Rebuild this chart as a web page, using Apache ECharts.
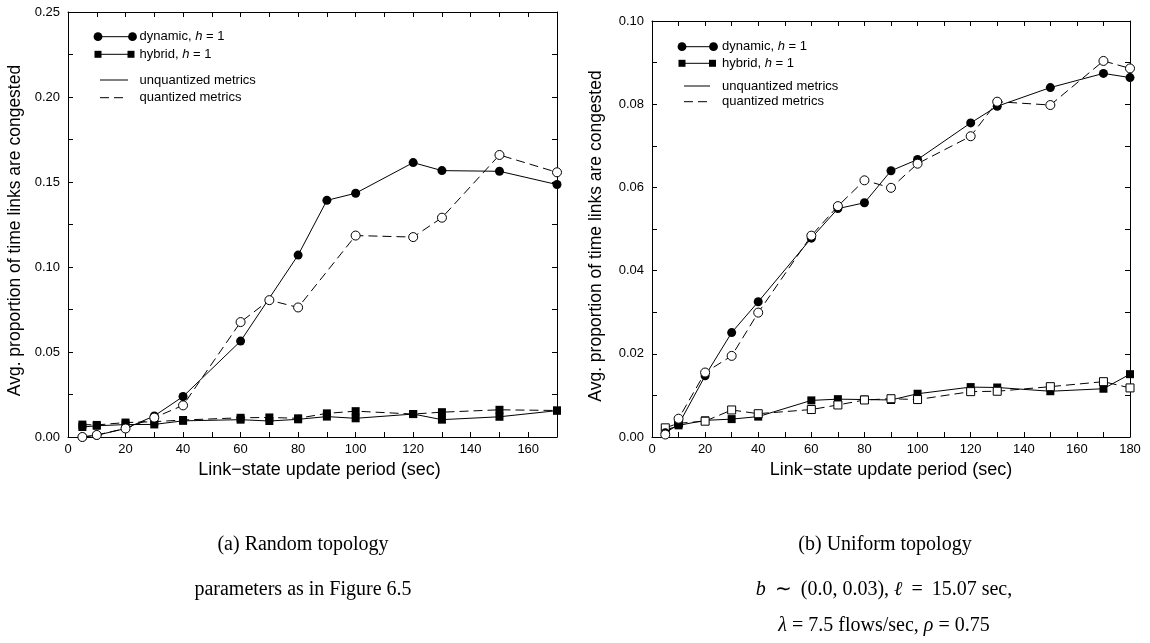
<!DOCTYPE html>
<html>
<head>
<meta charset="utf-8">
<script src="https://cdn.jsdelivr.net/npm/echarts@6/dist/echarts.min.js"></script>
<style>
  html, body { margin: 0; padding: 0; background: #fff; }
  #chart { width: 1150px; height: 643px; }
</style>
</head>
<body>
<div id="chart"></div>
<script>
// (a) Random topology: link-state update period (sec) vs. proportion of time links are congested
const periodsA_dyn      = [5, 10, 20, 30, 40, 60, 80, 90, 100, 120, 130, 150, 170];
const dynUnquantA       = [0.000, 0.001, 0.005, 0.0124, 0.0238, 0.0564, 0.107, 0.1392, 0.1434, 0.1614, 0.1567, 0.1563, 0.1485];
const periodsA_dynQ     = [5, 10, 20, 30, 40, 60, 70, 80, 100, 120, 130, 150, 170];
const dynQuantA         = [0.000, 0.0012, 0.005, 0.0114, 0.0186, 0.0676, 0.0805, 0.0762, 0.1185, 0.1176, 0.129, 0.1659, 0.1557];
const periodsA_hyb      = [5, 10, 20, 30, 40, 60, 70, 80, 90, 100, 120, 130, 150, 170];
const hybUnquantA       = [0.0059, 0.0066, 0.0073, 0.0074, 0.0095, 0.0102, 0.0094, 0.0104, 0.0120, 0.0110, 0.0135, 0.0102, 0.0119, 0.0155];
const hybQuantA         = [0.0073, 0.0071, 0.0085, 0.0090, 0.0100, 0.0113, 0.0115, 0.0110, 0.0139, 0.0152, 0.0135, 0.0146, 0.0160, 0.0156];

// (b) Uniform topology
const periodsB          = [5, 10, 20, 30, 40, 60, 70, 80, 90, 100, 120, 130, 150, 170, 180];
const dynUnquantB       = [0.001, 0.003, 0.0147, 0.0251, 0.0325, 0.0478, 0.0549, 0.0563, 0.0640, 0.0667, 0.0755, 0.0795, 0.0840, 0.0874, 0.0864];
const dynQuantB         = [0.0006, 0.0044, 0.0155, 0.0195, 0.0299, 0.0484, 0.0555, 0.0617, 0.0599, 0.0657, 0.0723, 0.0806, 0.0798, 0.0904, 0.0886];
const hybUnquantB       = [0.0015, 0.0028, 0.0040, 0.0043, 0.0049, 0.0088, 0.0091, 0.0090, 0.0089, 0.0104, 0.0120, 0.0119, 0.0110, 0.0116, 0.0151];
const hybQuantB         = [0.0022, 0.0033, 0.0038, 0.0065, 0.0056, 0.0066, 0.0077, 0.0089, 0.0092, 0.0090, 0.0109, 0.0110, 0.0121, 0.0133, 0.0118];

// Axis ranges and tick spacing
const xMaxA = 170, xMaxB = 180, xStep = 10, xLabelStep = 20;
const yMaxA = 0.25, yStepA = 0.025, yLabelStepA = 0.05;
const yMaxB = 0.10, yStepB = 0.01, yLabelStepB = 0.02;

const xAxisTitle = 'Link\u2212state update period (sec)';
const yAxisTitle = 'Avg. proportion of time links are congested';

const SANS = '"Liberation Sans", Arial, Helvetica, sans-serif';
const SERIF = '"Liberation Serif", "Times New Roman", serif';

function pairs(xs, ys) { return xs.map((x, i) => [x, ys[i]]); }

function isMultiple(v, step) {
  const r = v / step;
  return Math.abs(r - Math.round(r)) < 1e-6;
}

function frameAxis(kind, pos, gridIndex, max, step, labelStep, digits, title) {
  const ax = {
    type: 'value',
    gridIndex: gridIndex,
    position: pos,
    min: 0,
    max: max,
    interval: step,
    splitLine: { show: false },
    axisLine: { show: true, onZero: false, lineStyle: { color: '#000', width: 1 } },
    axisTick: { show: true, inside: true, length: 5, lineStyle: { color: '#000', width: 1 } },
    axisLabel: { show: false }
  };
  if (title) {
    ax.axisLabel = {
      show: true,
      color: '#000',
      fontFamily: SANS,
      fontSize: 13,
      margin: kind === 'x' ? 6 : 8,
      showMaxLabel: true,
      showMinLabel: true,
      formatter: v => isMultiple(v, labelStep) ? Number(v).toFixed(digits) : ''
    };
    ax.name = kind === 'x' ? xAxisTitle : yAxisTitle;
    ax.nameLocation = 'middle';
    ax.nameGap = title.gap;
    ax.nameTextStyle = { color: '#000', fontFamily: SANS, fontSize: title.size, padding: title.pad };
  }
  return ax;
}

const grids = [
  { left: 68, top: 12, width: 489, height: 425 },
  { left: 652, top: 21, width: 478, height: 416 }
];

const xAxes = [
  frameAxis('x', 'bottom', 0, xMaxA, xStep, xLabelStep, 0, { gap: 18, size: 18, pad: [0, 0, 0, 14] }),
  frameAxis('x', 'top', 0, xMaxA, xStep, xLabelStep, 0, null),
  frameAxis('x', 'bottom', 1, xMaxB, xStep, xLabelStep, 0, { gap: 18, size: 18, pad: 0 }),
  frameAxis('x', 'top', 1, xMaxB, xStep, xLabelStep, 0, null)
];
const yAxes = [
  frameAxis('y', 'left', 0, yMaxA, yStepA, yLabelStepA, 2, { gap: 44, size: 17.5, pad: [0, 12, 0, 0] }),
  frameAxis('y', 'right', 0, yMaxA, yStepA, yLabelStepA, 2, null),
  frameAxis('y', 'left', 1, yMaxB, yStepB, yLabelStepB, 2, { gap: 47, size: 17.5, pad: [0, 14, 0, 0] }),
  frameAxis('y', 'right', 1, yMaxB, yStepB, yLabelStepB, 2, null)
];

function lineSeries(name, xAxisIndex, yAxisIndex, data, opts) {
  return {
    type: 'line',
    name: name,
    xAxisIndex: xAxisIndex,
    yAxisIndex: yAxisIndex,
    data: data,
    symbol: opts.symbol,
    symbolSize: opts.size,
    showSymbol: true,
    showAllSymbol: true,
    lineStyle: { color: '#000', width: 1, type: opts.dashed ? [9, 5] : 'solid' },
    itemStyle: opts.open
      ? { color: '#fff', borderColor: '#000', borderWidth: 1 }
      : { color: '#000', borderColor: '#000', borderWidth: 0 },
    z: opts.z,
    emphasis: { disabled: true },
    animation: false
  };
}

const series = [
  // (a)
  lineSeries('hybrid, unquantized (a)', 0, 0, pairs(periodsA_hyb, hybUnquantA), { symbol: 'rect', size: 8, z: 2 }),
  lineSeries('hybrid, quantized (a)', 0, 0, pairs(periodsA_hyb, hybQuantA), { symbol: 'rect', size: 8, dashed: true, z: 3 }),
  lineSeries('dynamic, unquantized (a)', 0, 0, pairs(periodsA_dyn, dynUnquantA), { symbol: 'circle', size: 9, z: 4 }),
  lineSeries('dynamic, quantized (a)', 0, 0, pairs(periodsA_dynQ, dynQuantA), { symbol: 'circle', size: 9, dashed: true, open: true, z: 5 }),
  // (b)
  lineSeries('hybrid, unquantized (b)', 2, 2, pairs(periodsB, hybUnquantB), { symbol: 'rect', size: 8, z: 2 }),
  lineSeries('hybrid, quantized (b)', 2, 2, pairs(periodsB, hybQuantB), { symbol: 'rect', size: 8, dashed: true, open: true, z: 3 }),
  lineSeries('dynamic, unquantized (b)', 2, 2, pairs(periodsB, dynUnquantB), { symbol: 'circle', size: 9, z: 4 }),
  lineSeries('dynamic, quantized (b)', 2, 2, pairs(periodsB, dynQuantB), { symbol: 'circle', size: 9, dashed: true, open: true, z: 5 })
];

// Key drawn inside each plot: marker pairs for the two routing policies, line styles for the metrics
const italicRich = {
  n: { fontFamily: SANS, fontSize: 13, fill: '#000' },
  i: { fontFamily: SANS, fontSize: 13, fontStyle: 'italic', fill: '#000' }
};
function keyGroup(k) {
  const mk = (t, y) => ({
    type: 'text', x: k.textX, y: y,
    style: { text: t, rich: italicRich, font: '13px ' + SANS, fill: '#000', verticalAlign: 'middle', align: 'left' }
  });
  return [
    { type: 'line', shape: { x1: k.m0, y1: k.rows[0], x2: k.c1, y2: k.rows[0] }, style: { stroke: '#000', lineWidth: 1 } },
    { type: 'circle', shape: { cx: k.m0, cy: k.rows[0], r: 4.4 }, style: { fill: '#000' } },
    { type: 'circle', shape: { cx: k.c1, cy: k.rows[0], r: 4.4 }, style: { fill: '#000' } },
    mk('{n|dynamic, }{i|h}{n| = 1}', k.rows[0]),
    { type: 'line', shape: { x1: k.m0, y1: k.rows[1], x2: k.s1, y2: k.rows[1] }, style: { stroke: '#000', lineWidth: 1 } },
    { type: 'rect', shape: { x: k.m0 - 3.5, y: k.rows[1] - 3.5, width: 7, height: 7 }, style: { fill: '#000' } },
    { type: 'rect', shape: { x: k.s1 - 3.5, y: k.rows[1] - 3.5, width: 7, height: 7 }, style: { fill: '#000' } },
    mk('{n|hybrid, }{i|h}{n| = 1}', k.rows[1]),
    { type: 'line', shape: { x1: k.l0, y1: k.rows[2], x2: k.l1, y2: k.rows[2] }, style: { stroke: '#000', lineWidth: 1 } },
    mk('{n|unquantized metrics}', k.rows[2]),
    { type: 'line', shape: { x1: k.l0, y1: k.rows[3], x2: k.l1, y2: k.rows[3] }, style: { stroke: '#000', lineWidth: 1, lineDash: [9, 5] } },
    mk('{n|quantized metrics}', k.rows[3])
  ];
}

const captionRich = {
  r: { fontFamily: SERIF, fontSize: 20, fill: '#000' },
  i: { fontFamily: SERIF, fontSize: 20, fontStyle: 'italic', fill: '#000' }
};
function caption(x, y, text) {
  return {
    type: 'text', x: x, y: y,
    style: { text: text, rich: captionRich, font: '20px ' + SERIF, fill: '#000', align: 'center', verticalAlign: 'middle' }
  };
}

const TS = '\u2009';
const graphics = []
  .concat(keyGroup({ m0: 98, c1: 132.5, s1: 131, l0: 100, l1: 128, textX: 139.5, rows: [36.7, 54.3, 80, 97.7] }))
  .concat(keyGroup({ m0: 682, c1: 713.5, s1: 712.5, l0: 684, l1: 710, textX: 722, rows: [46.7, 63.3, 86, 101.7] }))
  .concat([
    caption(303, 545, '{r|(a) Random topology}'),
    caption(303, 590, '{r|parameters as in Figure 6.5}'),
    caption(885, 545, '{r|(b) Uniform topology}'),
    caption(884, 590, '{i|b}{r|' + TS + ' \u223C ' + TS + '(0.0, 0.03), }{i|\u2113}{r|' + TS + ' = ' + TS + '15.07 sec,}'),
    caption(884, 626, '{i|\u03BB}{r| = 7.5 flows/sec, }{i|\u03C1}{r| = 0.75}')
  ]);

const chart = echarts.init(document.getElementById('chart'), null, { renderer: 'canvas' });
chart.setOption({
  backgroundColor: '#fff',
  animation: false,
  grid: grids,
  xAxis: xAxes,
  yAxis: yAxes,
  series: series,
  graphic: graphics
});
</script>
</body>
</html>
